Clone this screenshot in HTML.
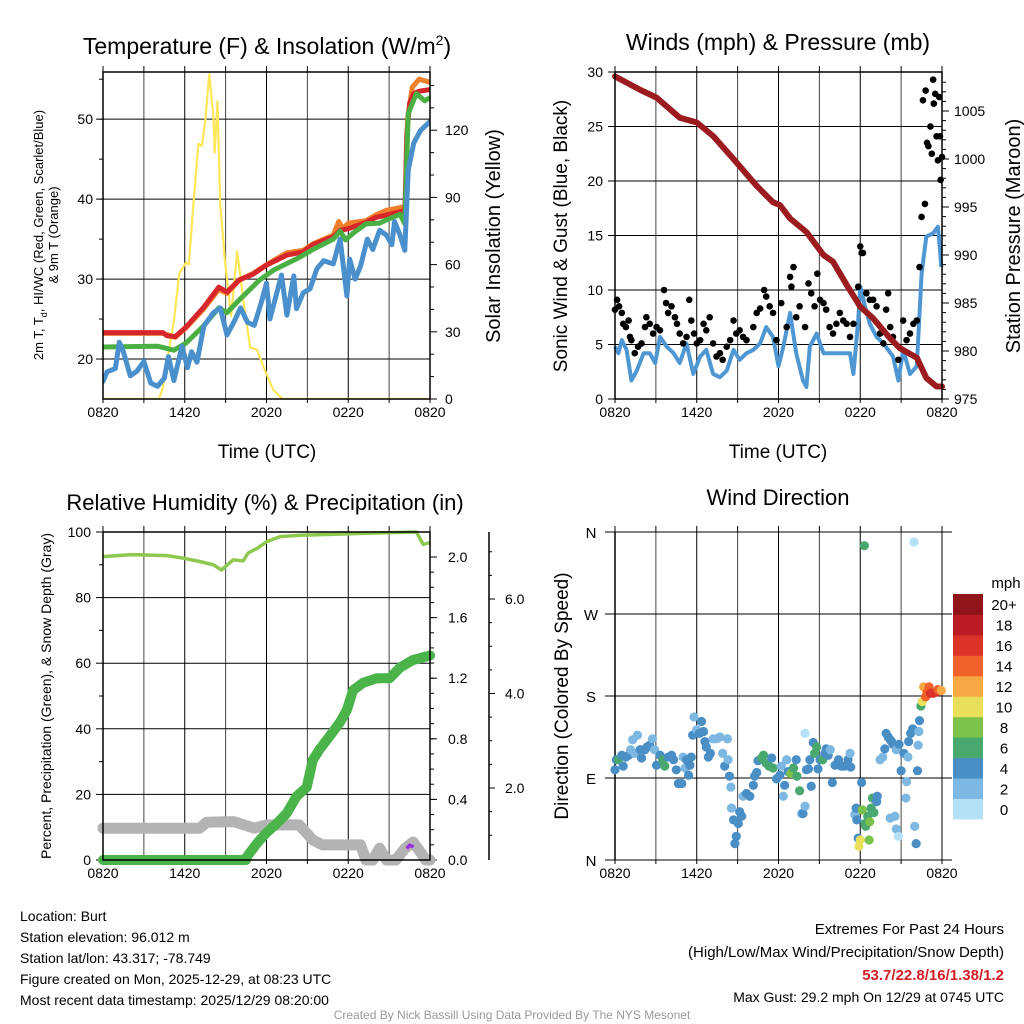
<!DOCTYPE html>
<html><head><meta charset="utf-8"><style>
html,body{margin:0;padding:0;background:#fff;}
svg{display:block;font-family:"Liberation Sans",sans-serif;}
</style></head><body>
<svg id="c" width="1024" height="1024" viewBox="0 0 1024 1024"></svg>
<script>
// ---- Temperature panel data (hours since 0820 UTC) ----
const tHours=[0,4.4,4.7,5.3,6.1,7.4,8.5,9.1,10,11,12,13.5,14.7,15.4,16.9,17.4,18,19.3,20,20.8,22,22.15,22.3,22.5,22.8,23.2,24];
const tVals=[23.3,23.3,22.9,22.8,24,26.5,29,28.4,29.9,30.6,31.75,33,33.4,34.3,35.3,36.1,36.3,37.1,37.7,38.0,38.5,38.0,48,52,53.2,53.5,53.7];
const t9Hours=[0,4.4,5.3,6.1,7.4,8.5,9.1,10,11,12,13.5,14.7,15.4,16.9,17.3,17.6,18,19.3,20,20.8,22,22.2,22.35,22.7,23.2,24];
const t9Vals=[23.2,23.2,22.7,23.9,26.3,28.7,28.2,29.9,30.7,31.8,33.3,33.6,34.4,35.5,37.2,36.3,37,37.3,38,38.6,39,38.5,50,54,55,54.6];
const hiHours=[0,4,5.2,6.1,7.3,8.5,9.1,10,11.5,12.5,14.4,15.4,16.9,17.4,17.8,18.4,19.3,20.3,20.8,21.8,22.15,22.4,23,23.6,24];
const hiVals=[21.5,21.6,21.1,22,24,26.4,25.8,27.4,29.9,31.1,32.7,33.7,35,36,34.9,35.8,36.9,37,37.4,38.1,36.9,50.7,53.2,52.3,52.7];
const tdHours=[0,0.3,0.9,1.2,1.5,2,2.5,3,3.5,4,4.5,4.8,5.2,5.8,6.2,6.5,6.9,7.4,8.1,8.6,9.1,9.6,10.1,10.6,11.1,11.6,12,12.25,12.7,13.1,13.5,14,14.2,14.7,15.2,15.7,16.2,16.9,17.4,17.9,18.1,18.5,18.9,19.4,19.8,20.3,20.8,21.2,21.4,21.8,22.15,22.4,22.8,23.3,24];
const tdVals=[17.2,18.4,18.8,22.1,20.9,17.9,18.5,19.7,17,16.6,17.6,20.3,17.3,21.6,18.9,20.9,19.6,24.1,25.8,26.4,23,24.6,26.4,24.6,24.2,27,29.5,25,27.9,30.5,25.5,30.4,26.3,28.3,28.8,31.3,32.3,31.9,35,27.9,32.5,30,31.6,35,33.7,36.1,35.5,34.3,37.2,35.5,33.6,43.6,47,48.6,49.7];
const solHours=[0,4.1,4.4,4.7,5.2,5.6,6.1,6.3,6.6,7,7.25,7.5,7.8,8.1,8.2,8.4,8.6,8.95,9.4,9.85,10.3,10.8,11.3,11.8,12.5,13.2,24];
const solVals=[0,0,5,17,35,56,61,60,84,114,113,124,145,126,110,133,87,62,37,66,44,23,22,14,4,0,0];
const tempTicks=[20,30,40,50];
const solTicks=[0,30,60,90,120];
const timeLabels=["0820","1420","2020","0220","0820"];
// ---- Wind panel data ----
const windHours=[0,0.25,0.5,0.85,1.2,1.6,2.1,2.55,2.95,3.3,3.8,4.3,4.75,5.25,5.75,6.25,6.7,7.2,7.7,8.2,8.7,9.15,9.65,10.15,10.65,11.1,11.6,12,12.35,12.85,13.3,13.8,14.05,14.3,14.8,15.3,15.75,16.5,17.25,17.5,17.85,18,18.35,18.7,19.2,19.7,20.4,20.8,21.15,21.65,22.15,22.5,22.85,23.35,23.7,23.85,23.95];
const windVals=[4.8,4.2,5.4,4.5,1.7,2.6,4.2,4.2,3.3,5.7,4.8,4.2,3.3,5.1,2.3,3.9,4.5,2.3,2.0,2.6,4.5,3.6,4.2,4.5,5.1,6.6,5.7,3.0,4.8,7.9,4.2,1.7,1.1,4.8,6.0,4.2,4.2,4.2,4.2,2.3,7.2,10.3,8.5,6.9,5.7,5.1,3.9,1.7,4.5,2.3,3.0,11.5,14.9,15.2,15.8,13.7,12.1];
const gustHours=[0,0.15,0.3,0.5,0.6,0.8,1.0,1.1,1.2,1.45,1.7,1.95,2.2,2.3,2.55,2.8,3.05,3.3,3.6,3.75,3.9,4.15,4.4,4.55,4.75,5.0,5.25,5.45,5.6,5.8,6.0,6.25,6.5,6.7,6.95,7.2,7.45,7.7,7.9,8.2,8.45,8.7,8.9,9.15,9.4,9.65,10.15,10.4,10.65,10.95,11.1,11.35,11.6,11.85,12.2,12.6,12.85,12.95,13.1,13.3,13.55,13.95,14.2,14.4,14.65,14.85,15.05,15.3,15.5,15.75,16.0,16.25,16.5,16.75,17.0,17.25,17.5,17.85,18.0,18.1,18.2,18.45,18.7,18.95,19.2,19.45,19.7,19.9,20.05,20.2,20.4,20.8,21.15,21.4,21.65,21.9,22.15,22.35,22.5,22.6,22.75,22.8,22.9,23.0,23.15,23.25,23.35,23.4,23.5,23.6,23.7,23.8,23.85,23.9,24.0];
const gustVals=[8.2,9.1,8.5,7.9,6.9,6.6,7.2,5.7,5.4,4.2,4.8,5.1,6.6,7.5,6.9,6.0,6.6,6.3,10.0,8.8,7.9,8.5,7.5,6.9,6.0,5.1,5.7,9.1,7.2,6.0,5.1,5.4,6.9,6.3,7.5,5.1,3.9,4.2,3.6,4.8,5.4,7.2,6.0,6.3,5.7,5.4,6.6,7.9,8.3,10.0,9.4,8.5,7.9,5.4,8.8,6.6,11.2,10.3,12.1,7.5,8.5,6.6,10.6,9.7,8.5,11.5,9.1,8.8,8.2,6.6,6.0,6.9,7.9,7.2,6.9,5.7,6.9,10.3,14.0,13.4,13.4,9.7,9.1,9.1,8.5,6.0,5.1,8.2,9.7,6.6,5.7,3.6,7.2,5.4,6.0,6.9,7.2,12.1,16.7,27.4,17.9,28.3,23.5,23.2,25.0,22.5,29.3,27.1,28.0,24.1,21.9,27.7,24.1,20.1,22.2];
const presHours=[0,1.85,3.05,4.75,6.0,7.2,8.7,10.4,11.6,12.1,12.85,14.05,15.3,16.0,17.0,18.0,18.95,20.2,20.9,21.4,22.15,22.85,23.6,24];
const presVals=[1008.6,1007.2,1006.4,1004.3,1003.8,1002.4,1000,997.2,995.5,995.2,993.8,992.4,990,989.3,986.9,984.6,983.4,981.3,980.3,979.9,979.3,977.2,976.3,976.3];
const windTicks=[0,5,10,15,20,25,30];
const presTicks=[975,980,985,990,995,1000,1005];
// ---- RH / precip panel ----
const rhHours=[0,2.2,4.7,5.9,7.1,8.1,8.7,9.3,9.55,10.3,10.65,11.3,12,13,14.5,17,19.3,23,23.5,24];
const rhVals=[92.5,93.1,92.8,92,91,90,88.4,90.6,91.5,91.2,93.6,95,97,98.6,99,99.3,99.6,100,96.2,96.8];
const pcpHours=[0,10.5,10.55,11.3,12,12.75,13.5,14.2,14.95,15.4,15.9,16.65,17.4,17.9,18.35,19.1,20.1,21.05,21.8,22.75,24];
const pcpVals=[0,0,0.02,0.11,0.18,0.24,0.31,0.42,0.48,0.66,0.73,0.82,0.91,0.99,1.12,1.17,1.2,1.2,1.27,1.32,1.35];
const snowHours=[0,7.1,7.6,9.6,11.1,12,14.4,15.4,16.1,18.9,19.3,19.8,20.3,20.8,21.5,22.15,22.75,23.2,23.7,24];
const snowVals=[9.7,9.7,11.5,11.7,9.7,10.7,10.7,6.1,4.6,4.6,0,0,3.6,0,0,3.5,5.5,3,0,0];
const purpHours=[22.3,22.5,22.8];
const purpVals=[3.5,4.5,4];
const pctTicks=[0,20,40,60,80,100];
const pcpTicks=[0,0.4,0.8,1.2,1.6,2.0];
const pcpTickLabels=["0.0","0.4","0.8","1.2","1.6","2.0"];
const snowTicks=[2,4,6];
const snowTickLabels=["2.0","4.0","6.0"];
// ---- Wind direction panel ----
const dirHours=[0,0.1,0.25,0.5,0.6,0.8,1.0,1.15,1.3,1.45,1.65,1.85,1.95,2.2,2.35,2.55,2.75,2.9,3.05,3.3,3.5,3.65,3.9,4.15,4.3,4.5,4.65,4.9,5.0,5.15,5.25,5.4,5.5,5.6,5.7,5.8,6.0,6.2,6.35,6.5,6.6,6.7,6.85,7.0,7.2,7.45,7.7,7.9,8.05,8.25,8.3,8.4,8.5,8.55,8.7,8.8,8.9,9.05,9.15,9.3,9.4,9.65,9.9,10.15,10.25,10.4,10.5,10.75,10.9,11.1,11.3,11.5,11.6,11.85,12.1,12.2,12.35,12.45,12.6,12.7,12.9,13.1,13.3,13.35,13.55,13.7,13.8,13.95,13.95,14.05,14.2,14.3,14.4,14.55,14.65,14.8,14.9,15.05,15.25,15.4,15.5,15.65,15.8,15.95,16.15,16.4,16.6,16.85,17.1,17.25,17.3,17.6,17.7,17.75,17.85,17.9,18.0,18.1,18.15,18.3,18.35,18.4,18.55,18.65,18.7,18.8,18.9,19.0,19.2,19.25,19.45,19.65,19.8,19.9,20.05,20.2,20.3,20.4,20.2,20.55,20.65,20.65,20.8,20.85,21.0,21.2,21.35,21.4,21.5,21.55,21.7,21.85,21.95,22.0,22.1,22.2,22.25,22.3,22.35,22.45,22.55,22.65,22.8,22.9,23.05,23.15,23.35,23.55,23.7,23.95];
const dirVals=[99,110,110,115,103,113,115,121,132,117,137,121,112,121,124,126,133,121,104,115,110,103,113,115,110,99,84,84,113,101,110,93,104,113,137,157,143,139,152,141,130,124,113,117,133,133,135,117,103,133,110,92,80,57,44,18,26,40,53,48,70,73,70,82,92,96,109,112,115,106,103,112,101,89,93,103,70,82,110,97,95,101,110,92,76,51,51,59,139,99,100,110,81,129,117,124,100,110,110,117,122,115,121,85,104,110,103,103,110,117,102,50,57,44,24,15,22,85,55,345,40,37,48,22,42,57,68,52,64,70,110,113,122,139,135,132,130,127,46,48,121,34,26,127,98,117,68,86,113,130,139,144,349,37,18,98,126,141,153,169,174,190,179,184,190,183,183,184,187,186];
const dirSpeeds=[5,5,7,5,5,5,5,3,3,3,3,5,5,5,5,5,3,3,5,5,7,7,5,5,5,5,5,5,3,3,5,5,5,5,5,3,3,5,5,5,5,5,5,5,3,3,3,3,5,3,3,5,3,3,5,5,5,5,5,5,3,5,5,5,5,5,5,7,7,7,7,5,7,5,5,3,3,5,3,5,9,7,5,7,7,3,5,3,1,5,5,5,5,5,7,7,5,5,7,5,5,5,3,5,5,5,5,5,5,3,5,3,5,5,5,11,11,5,9,7,7,7,7,9,9,7,7,7,5,5,3,3,5,5,5,5,5,5,3,3,3,3,1,5,5,5,3,3,3,5,5,5,1,3,5,5,3,3,5,7,11,13,15,15,15,17,17,17,15,13];
const dirTicks=[0,90,180,270,360];
const dirTickLabels=["N","E","S","W","N"];
const speedBins=[0,2,4,6,8,10,12,14,16,18,20];
const speedLabels=["0","2","4","6","8","10","12","14","16","18","20+"];
const speedColors=["#b4e1f6","#7cb8e2","#4a8ec6","#48a86e","#7bc24a","#e8e05a","#f6a844","#f06229","#dc3328","#bb1c24","#8f151a"];

const svg=document.getElementById('c');
const NS="http://www.w3.org/2000/svg";
function el(tag,attrs,parent){const e=document.createElementNS(NS,tag);for(const k in attrs)e.setAttribute(k,attrs[k]);(parent||svg).appendChild(e);return e;}
function txt(s,x,y,size,anchor,parent,extra){const t=el('text',Object.assign({x:x,y:y,'font-size':size,'text-anchor':anchor||'middle',fill:'#000'},extra||{}),parent);t.textContent=s;return t;}
function lin(d0,d1,r0,r1){return v=>r0+(v-d0)/(d1-d0)*(r1-r0);}

function frame(g,L,R,T,B,xs){
  // vertical grid every 3h
  for(let h=0;h<=24;h+=3){const x=xs(h);
    const gl=el('line',{x1:x,y1:T,x2:x,y2:B,stroke:(h%6===0)?'#000':'#444','stroke-width':1},g);
    
    
    el('line',{x1:x,y1:T-6,x2:x,y2:T,stroke:'#000','stroke-width':1},g);
    el('line',{x1:x,y1:B,x2:x,y2:B+4,stroke:'#000','stroke-width':1},g);
  }
  timeLabels.forEach((s,i)=>{const t=txt(s,xs(i*6),B+18,14,'middle',g);
    
    });
}
function hgrid(g,L,R,y){el('line',{x1:L,y1:y,x2:R,y2:y,stroke:'#000','stroke-width':1},g);}
function pathFrom(hs,vs,xs,ys){return hs.map((h,i)=>(i?'L':'M')+xs(h).toFixed(1)+' '+ys(vs[i]).toFixed(1)).join(' ');}
function border(g,L,R,T,B){el('rect',{x:L,y:T,width:R-L,height:B-T,fill:'none',stroke:'#000','stroke-width':1.5},g);}

// ===== Panel 1 =====
(function(){
  const L=103,R=430,T=72,B=399;
  const g=el('g',{});
  const xs=lin(0,24,L,R), ys=lin(15,55.9,B,T), ysol=lin(0,146,B,T);
  const cp=el('clipPath',{id:'cp1'},g);el('rect',{x:L,y:T,width:R-L,height:B-T},cp);
  frame(g,L,R,T,B,xs);
  tempTicks.forEach(v=>{hgrid(g,L,R,ys(v));el('line',{x1:L-7,y1:ys(v),x2:L,y2:ys(v),stroke:'#000'},g);
    const t=txt(String(v),L-10,ys(v)+5,14,'end',g);});
  for(let v=16;v<=55;v++){if(v%5)continue;el('line',{x1:L-4,y1:ys(v),x2:L,y2:ys(v),stroke:'#000'},g);}
  solTicks.forEach(v=>{el('line',{x1:R,y1:ysol(v),x2:R+7,y2:ysol(v),stroke:'#000'},g);
    const t=txt(String(v),R+15,ysol(v)+5,14,'start',g);});
  for(let v=10;v<=140;v+=10){if(v%30)el('line',{x1:R,y1:ysol(v),x2:R+4,y2:ysol(v),stroke:'#000'},g);}
  const pg=el('g',{'clip-path':'url(#cp1)'},g);
  const series=[[solHours,solVals,ysol,'#fde658',2.2,'solar-insolation-line'],[t9Hours,t9Vals,ys,'#f07f2c',5,'9m-temp-line'],[tHours,tVals,ys,'#d7262b',5,'2m-temp-line'],[hiHours,hiVals,ys,'#4bb043',5,'heat-index-line'],[tdHours,tdVals,ys,'#4a90cc',5,'dewpoint-line']];
  series.forEach(s=>{const p=el('path',{d:pathFrom(s[0],s[1],xs,s[2]),fill:'none',stroke:s[3],'stroke-width':s[4],'stroke-linejoin':'round','stroke-linecap':'round'},pg);
    });
  border(g,L,R,T,B);
  let t=el('text',{x:267,y:54,'font-size':23,'text-anchor':'middle',fill:'#000'},g);
  
  t.innerHTML='Temperature (F) &amp; Insolation (W/m<tspan dy="-9" font-size="14">2</tspan><tspan dy="9">)</tspan>';
  t=txt('Time (UTC)',267,458,19,'middle',g);
  t=el('text',{transform:'translate(43,235) rotate(-90)','font-size':13,'text-anchor':'middle',fill:'#000'},g);
  
  t.innerHTML='2m T, T<tspan dy="4" font-size="9">d</tspan><tspan dy="-4">, HI/WC (Red, Green, Scarlet/Blue)</tspan>';
  t=txt('& 9m T (Orange)',0,0,13,'middle',g,{transform:'translate(58,235) rotate(-90)'});
  t=txt('Solar Insolation (Yellow)',0,0,20,'middle',g,{transform:'translate(500,236) rotate(-90)'});
})();

// ===== Panel 2 =====
(function(){
  const L=615,R=942,T=72,B=399;
  const g=el('g',{});
  const xs=lin(0,24,L,R), ys=lin(0,30,B,T), yp=lin(975,1005,B,111);
  const cp=el('clipPath',{id:'cp2'},g);el('rect',{x:L-5,y:T-5,width:R-L+10,height:B-T+10},cp);
  frame(g,L,R,T,B,xs);
  windTicks.forEach(v=>{hgrid(g,L,R,ys(v));el('line',{x1:L-7,y1:ys(v),x2:L,y2:ys(v),stroke:'#000'},g);
    const t=txt(String(v),L-12,ys(v)+5,14,'end',g);});
  presTicks.forEach(v=>{el('line',{x1:R,y1:yp(v),x2:R+7,y2:yp(v),stroke:'#000'},g);
    const t=txt(String(v),R+12,yp(v)+5,14,'start',g);});
  for(let v=976;v<=1008;v++){if(v%5)el('line',{x1:R,y1:yp(v),x2:R+4,y2:yp(v),stroke:'#000'},g);}
  const pg=el('g',{'clip-path':'url(#cp2)'},g);
  let p=el('path',{d:pathFrom(windHours,windVals,xs,ys),fill:'none',stroke:'#4f97d2','stroke-width':4,'stroke-linejoin':'round'},pg);
  
  gustHours.forEach((h,i)=>{const c=el('circle',{cx:xs(h),cy:ys(gustVals[i]),r:3.3,fill:'#000'},pg);
    });
  p=el('path',{d:pathFrom(presHours,presVals,xs,yp),fill:'none',stroke:'#9b1b1e','stroke-width':6,'stroke-linejoin':'round','stroke-linecap':'round'},pg);
  
  border(g,L,R,T,B);
  let t=txt('Winds (mph) & Pressure (mb)',778,50,23,'middle',g);
  t=txt('Time (UTC)',778,458,19,'middle',g);
  t=txt('Sonic Wind & Gust (Blue, Black)',0,0,19,'middle',g,{transform:'translate(567,236) rotate(-90)'});
  t=txt('Station Pressure (Maroon)',0,0,20,'middle',g,{transform:'translate(1020,236) rotate(-90)'});
})();

// ===== Panel 3 =====
(function(){
  const L=103,R=430,T=532,B=860;
  const g=el('g',{});
  const xs=lin(0,24,L,R), ys=lin(0,100,B,T), ypc=lin(0,2,B,557), ysn=lin(2,6,788,599);
  const cp=el('clipPath',{id:'cp3'},g);el('rect',{x:L-8,y:T-8,width:R-L+16,height:B-T+16},cp);
  frame(g,L,R,T,B,xs);
  pctTicks.forEach(v=>{hgrid(g,L,R,ys(v));el('line',{x1:L-7,y1:ys(v),x2:L,y2:ys(v),stroke:'#000'},g);
    const t=txt(String(v),L-12,ys(v)+5,14,'end',g);});
  for(let v=10;v<100;v+=20)el('line',{x1:L-4,y1:ys(v),x2:L,y2:ys(v),stroke:'#000'},g);
  pcpTicks.forEach((v,i)=>{el('line',{x1:R,y1:ypc(v),x2:R+7,y2:ypc(v),stroke:'#000'},g);
    const t=txt(pcpTickLabels[i],R+18,ypc(v)+5,14,'start',g);});
  for(let v=0.1;v<2.1;v+=0.1){el('line',{x1:R,y1:ypc(v),x2:R+4,y2:ypc(v),stroke:'#000'},g);}
  el('line',{x1:489,y1:532,x2:489,y2:860,stroke:'#000','stroke-width':1.5},g);
  snowTicks.forEach((v,i)=>{el('line',{x1:489,y1:ysn(v),x2:495,y2:ysn(v),stroke:'#000'},g);
    const t=txt(snowTickLabels[i],505,ysn(v)+5,14,'start',g);});
  for(let v=1;v<=7;v+=0.5){const y=ysn(v);if(y>=535&&y<=858&&v%2)el('line',{x1:489,y1:y,x2:492,y2:y,stroke:'#000'},g);}
  const pg=el('g',{'clip-path':'url(#cp3)'},g);
  let p=el('path',{d:pathFrom(snowHours,snowVals,xs,ys),fill:'none',stroke:'#b3b3b3','stroke-width':11,'stroke-linejoin':'round','stroke-linecap':'round'},pg);
  
  p=el('path',{d:pathFrom(pcpHours,pcpVals,xs,ypc),fill:'none',stroke:'#4ab44a','stroke-width':10,'stroke-linejoin':'round','stroke-linecap':'round'},pg);
  
  p=el('path',{d:pathFrom(rhHours,rhVals,xs,ys),fill:'none',stroke:'#8cc94e','stroke-width':3.5,'stroke-linejoin':'round'},pg);
  
  p=el('path',{d:pathFrom(purpHours,purpVals,xs,ys),fill:'none',stroke:'#9b30e0','stroke-width':3.5,'stroke-linejoin':'round'},pg);
  
  border(g,L,R,T,B);
  let t=txt('Relative Humidity (%) & Precipitation (in)',265,510,22,'middle',g);
  t=txt('Percent, Precipitation (Green), & Snow Depth (Gray)',0,0,14,'middle',g,{transform:'translate(51,696) rotate(-90)'});
})();

// ===== Panel 4 =====
(function(){
  const L=615,R=942,T=532,B=860;
  const g=el('g',{});
  const xs=lin(0,24,L,R), ys=lin(0,360,B,T);
  frame(g,L,R,T,B,xs);
  dirTicks.forEach((v,i)=>{el('line',{x1:L-10,y1:ys(v),x2:R+10,y2:ys(v),stroke:'#000'},g);
    const t=txt(dirTickLabels[i],L-24,ys(v)+6,15,'middle',g);});
  el('line',{x1:L,y1:T,x2:L,y2:B,stroke:'#000','stroke-width':1.5},g);
  function colorFor(s){let k=0;for(let i=0;i<speedBins.length;i++)if(s>=speedBins[i])k=i;return speedColors[k];}
  dirHours.forEach((h,i)=>{const c=el('circle',{cx:xs(h),cy:ys(dirVals[i]),r:4.6,fill:colorFor(dirSpeeds[i])},g);
    });
  let t=txt('Wind Direction',778,505,22,'middle',g);
  t=txt('Direction (Colored By Speed)',0,0,19,'middle',g,{transform:'translate(568,696) rotate(-90)'});
  const cb=el('g',{},g);
  const top=594,bot=819,h=(bot-top)/speedColors.length;
  speedColors.forEach((c,i)=>{const y=bot-(i+1)*h;el('rect',{x:953,y:y,width:30,height:h+0.5,fill:c},cb);
    const t=txt(speedLabels[i],1004,y+h/2+6,15,'middle',cb);});
  t=txt('mph',1006,588,15,'middle',cb);
})();

// ===== Footer =====
(function(){
  const g=el('g',{});
  const left=["Location: Burt","Station elevation: 96.012 m","Station lat/lon: 43.317; -78.749","Figure created on Mon, 2025-12-29, at 08:23 UTC","Most recent data timestamp: 2025/12/29 08:20:00"];
  left.forEach((s,i)=>{const t=txt(s,20,921+i*21,14,'start',g);});
  let t=txt('Extremes For Past 24 Hours',1004,934,15,'end',g);
  t=txt('(High/Low/Max Wind/Precipitation/Snow Depth)',1004,957,15,'end',g);
  t=txt('53.7/22.8/16/1.38/1.2',1004,980,15,'end',g,{fill:'#d21f26','font-weight':'bold'});
  t=txt('Max Gust: 29.2 mph On 12/29 at 0745 UTC',1004,1002,14,'end',g);
  t=txt('Created By Nick Bassill Using Data Provided By The NYS Mesonet',512,1019,12,'middle',g,{fill:'#999'});
})();
</script>
</body></html>
